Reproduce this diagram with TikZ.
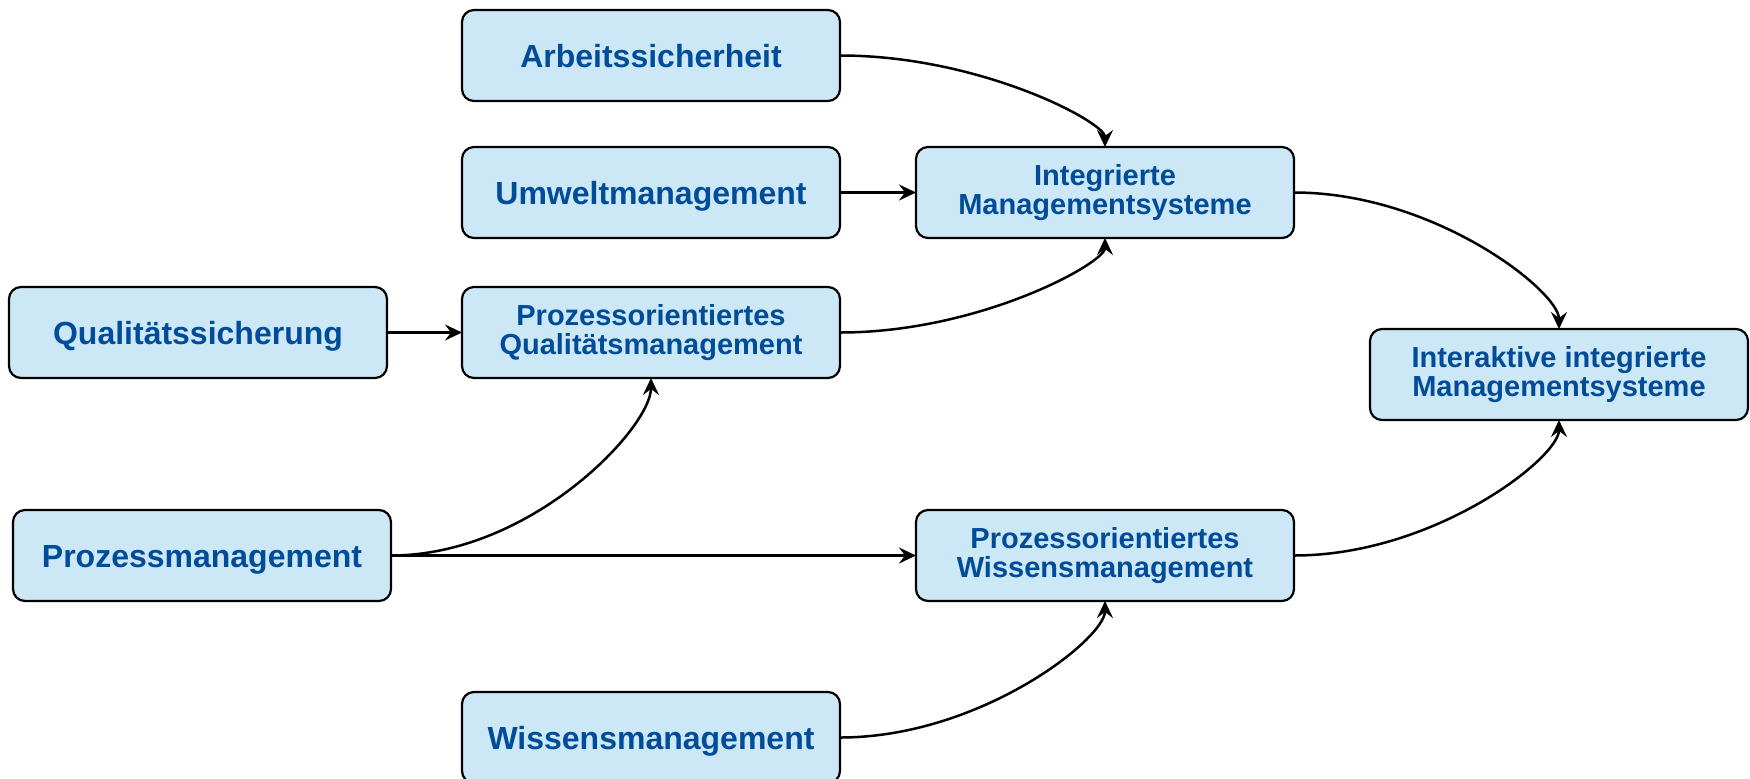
\documentclass[tikz,border=0pt]{standalone}
\usepackage{fontspec}
\setmainfont{Liberation Sans}
\usepackage{tikz}
\usetikzlibrary{arrows.meta, positioning}
\usepackage{xcolor}
\definecolor{LiteBlue}{RGB}{204, 232, 246}
\definecolor{DeepBlue}{RGB}{0, 76, 153}
\definecolor{RichBlack}{RGB}{0, 0, 0}
\tikzset{%
  smooth_block/.style={%
    draw=RichBlack,%
    rectangle,%
    rounded corners=6pt,%
    line width=1.1pt,%
    fill=LiteBlue,%
    text=DeepBlue,%
    minimum width=189pt,%
    minimum height=45.5pt,%
    inner sep=0pt,%
    outer sep=0pt,%
    align=center,%
  },
  big_text/.style={%
    font={\bfseries\fontsize{16}{16}\selectfont},%
    text height=11.5pt,%
    text depth=0pt,%
  },
  small_text/.style={%
    font={\bfseries\fontsize{14.5}{14.5}\selectfont},%
  },
  smooth_path/.style={%
    color=RichBlack,%
    line join=round,%
    line width=1.25pt,%
  },
  arrow/.style={-{Stealth[length=8.5pt, width=8pt, inset=3pt]}},
}
\begin{document}
\begin{tikzpicture}
    \useasboundingbox (-552.5pt, -292.75pt) rectangle (322.5pt, 96.25pt);

    \node [draw, smooth_block, small_text] (Integ) {Integrierte\\Managementsysteme};
    \node [draw, smooth_block, big_text, left = 38pt of Integ] (Umwelt) {Umweltmanagement};
    \node [draw, smooth_block, big_text, above = 23pt of Umwelt] (Arbeit) {Arbeitssicherheit};
    \node [draw, smooth_block, small_text, below = 24.5pt of Umwelt] (ProzQual) {Prozessorientiertes\\Qualitätsmanagement};
    \node [draw, smooth_block, big_text, left = 37.5pt of ProzQual] (QualSich) {Qualitätssicherung};
    \node [draw, smooth_block, small_text, below = 136pt of Integ] (ProzWiss) {Prozessorientiertes\\Wissensmanagement};
    \node [draw, smooth_block, big_text, left = 262.5pt of ProzWiss] (ProzMan) {Prozessmanagement};
    \node [draw, smooth_block, big_text, below left = 45.5pt and 38pt of ProzWiss] (Wissen) {Wissensmanagement};
    \node [draw, smooth_block, small_text, below right = 45.5pt and 38pt of Integ] (Interakt) {Interaktive integrierte\\Managementsysteme};

    \draw [arrow, smooth_path]
      (Arbeit.east)
      to [out=0, in=90, out distance=70pt, in distance=12.5pt]
      (Integ.north);
    \draw [arrow, smooth_path]
      (Umwelt.east)
      --
      (Integ.west);
    \draw [arrow, smooth_path]
      (ProzQual.east)
      to [out=0, in=-90, out distance=70pt, in distance=12.5pt]
      (Integ.south);
    \draw [arrow, smooth_path]
      (QualSich.east)
      --
      (ProzQual.west);
    \draw [arrow, smooth_path]
      (ProzMan.east)
      to [out=0, in=-90, out distance=70pt, in distance=25pt]
      (ProzQual.south);
    \draw [arrow, smooth_path]
      (ProzMan.east)
      --
      (ProzWiss.west);
    \draw [arrow, smooth_path]
      (Wissen.east)
      to [out=0, in=-90, out distance=70pt, in distance=19pt]
      (ProzWiss.south);
    \draw [arrow, smooth_path]
      (Integ.east)
      to [out=0, in=90, out distance=70pt, in distance=19pt]
      (Interakt.north);
    \draw [arrow, smooth_path]
      (ProzWiss.east)
      to [out=0, in=-90, out distance=70pt, in distance=19pt]
      (Interakt.south);
  \end{tikzpicture}
\end{document}
